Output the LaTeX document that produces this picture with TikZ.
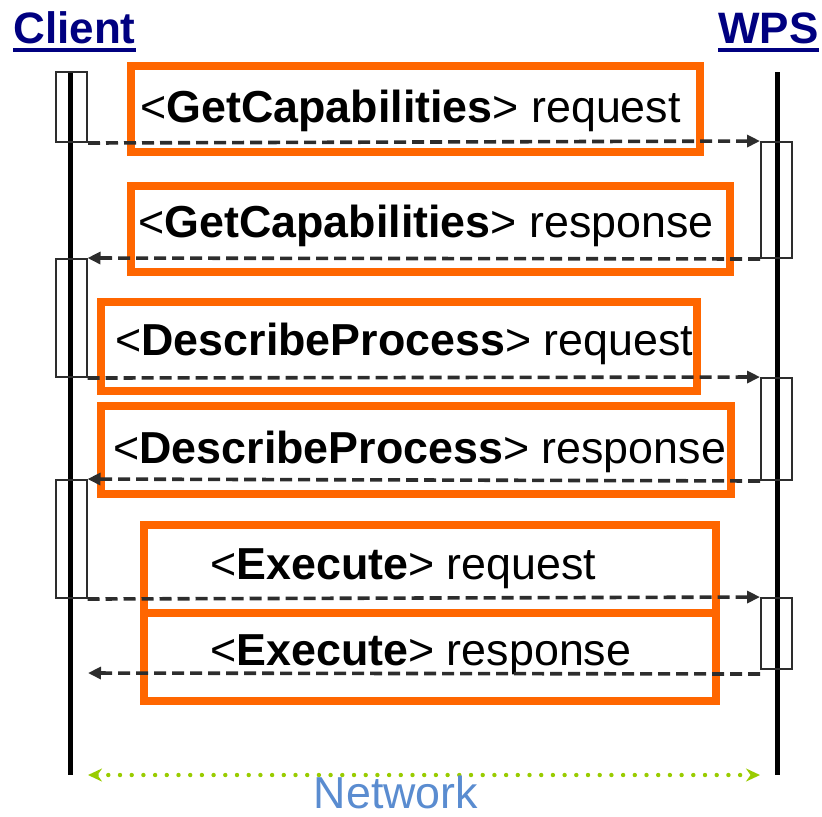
\documentclass[tikz,border=0pt]{standalone}
\usepackage{fontspec}
\setmainfont{Liberation Sans}
\usepackage{tikz}
\usetikzlibrary{arrows.meta}
\definecolor{boxorange}{RGB}{255,102,0}
\definecolor{titleblue}{RGB}{0,0,128}
\definecolor{netblue}{RGB}{90,140,208}
\definecolor{netgreen}{RGB}{153,204,0}
\definecolor{msggray}{RGB}{45,45,45}
\newcommand{\headul}[1]{\setbox0=\hbox{#1}\rlap{\rule[-4.5pt]{\wd0}{1.8pt}}\box0}
\tikzset{
  lifeline/.style={line width=2.5pt},
  act/.style={draw=msggray,line width=1pt,minimum width=15.5pt,inner sep=0pt},
  frame/.style={draw=boxorange,line width=4pt,inner sep=0pt},
  msg/.style={draw=msggray,line width=1.8pt,dash pattern=on 6pt off 3pt,
    -{Triangle[length=6.5pt,width=6pt]}},
  msgtext/.style={anchor=base west,inner sep=0pt,font=\fontsize{22.4}{26}\selectfont},
  head/.style={anchor=base west,inner sep=0pt,text=titleblue,font=\fontsize{22}{26}\selectfont\bfseries}
}
\def\actbox{\node[act]}
\def\msgframe{\node[frame]}

\begin{document}
\begin{tikzpicture}[x=0.5pt,y=-0.5pt]
\useasboundingbox (0,0) rectangle (822,816);
% titles
\node[head] (client) at (13,43) {\headul{Client}};
\node[head] (wps) at (718,43) {\headul{WPS}};
% lifelines
\coordinate (ctop) at (70,72);
\coordinate (cbot) at (70,775);
\coordinate (wtop) at (777,72);
\coordinate (wbot) at (777,775);
\draw[lifeline] (ctop) -- (cbot);
\draw[lifeline] (wtop) -- (wbot);
% activations
\actbox[minimum height=35pt] (c1) at (71.5,107) {};
\actbox[minimum height=59pt] (c2) at (71,318) {};
\actbox[minimum height=59pt] (c3) at (71,539) {};
\actbox[minimum height=58pt] (w1) at (776.5,200) {};
\actbox[minimum height=51pt] (w2) at (776.5,429) {};
\actbox[minimum height=35.5pt] (w3) at (776.5,633.5) {};
% message frames
\msgframe[minimum width=284.5pt,minimum height=42.75pt] (f1) at (415.5,109) {};
\msgframe[minimum width=299.5pt,minimum height=43pt] (f2) at (430.5,229) {};
\msgframe[minimum width=298pt,minimum height=44.5pt] (f3) at (399,346.5) {};
\msgframe[minimum width=315pt,minimum height=43.75pt] (f4) at (415.5,450) {};
\msgframe[minimum width=285.75pt,minimum height=44.25pt] (f5) at (429.75,568.75) {};
\msgframe[minimum width=285.75pt,minimum height=44pt] (f6) at (429.75,657) {};
\node[msgtext] (t1) at (140,122) {<\textbf{GetCapabilities}> request};
\node[msgtext] (t2) at (138,237) {<\textbf{GetCapabilities}> response};
\node[msgtext] (t3) at (115,355) {<\textbf{DescribeProcess}> request};
\node[msgtext] (t4) at (113,463) {<\textbf{DescribeProcess}> response};
\node[msgtext] (t5) at (210,579) {<\textbf{Execute}> request};
\node[msgtext] (t6) at (210,665) {<\textbf{Execute}> response};
% messages
\coordinate (ret) at (88,673);
\draw[msg] (c1.south east) -- (w1.north west);
\draw[msg] (w1.south west) -- (c2.north east);
\draw[msg] (c2.south east) -- (w2.north west);
\draw[msg] (w2.south west) -- (c3.north east);
\draw[msg] (c3.south east) -- (w3.north west);
\draw[msg] ([yshift=-2pt]w3.south west) -- (ret);
% network
\draw[netgreen,line width=2.2pt,line cap=round,dash pattern=on 0pt off 5.85pt,
  {Stealth[length=7pt,width=6.5pt]}-{Stealth[length=7pt,width=6.5pt]},
  shorten <=9pt,shorten >=8.5pt] (cbot) -- (wbot);
\node[msgtext,anchor=base,text=netblue] (net) at (396,808) {Network};
\end{tikzpicture}
\end{document}
